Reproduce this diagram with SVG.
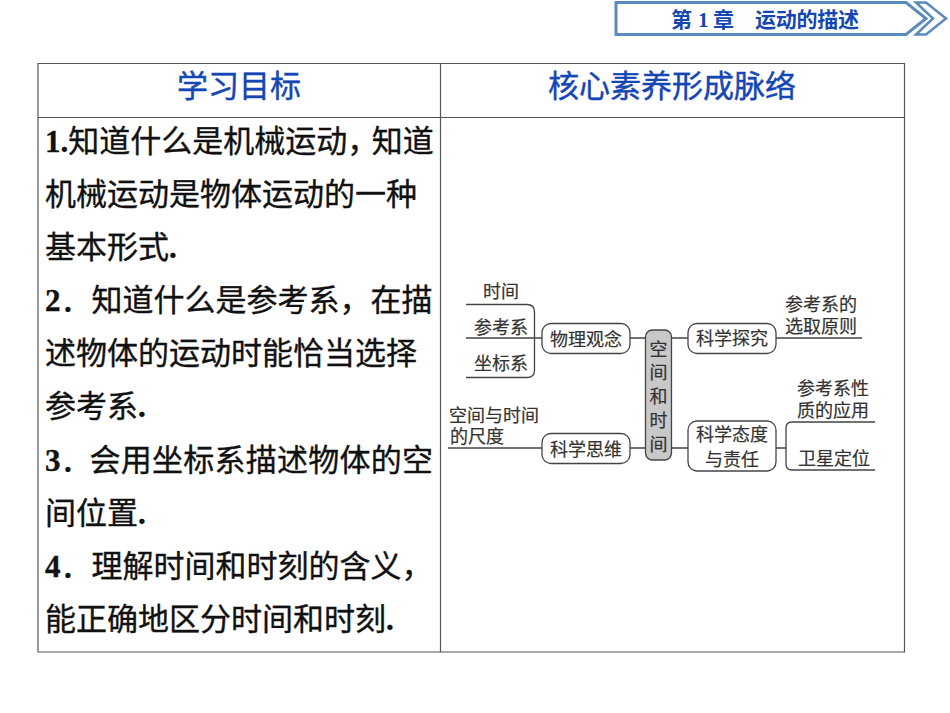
<svg xmlns="http://www.w3.org/2000/svg" width="950" height="713" viewBox="0 0 950 713">
<style>
text{font-family:"Liberation Serif","Noto Sans CJK SC",serif}
.b{font-size:31px;fill:#111;stroke:#111;stroke-width:.35}
.h{font-size:31px;fill:#1446b4;stroke:#1446b4;stroke-width:.4;text-anchor:middle}
.t{font-size:18px;fill:#333;stroke:#333;stroke-width:.2;text-anchor:middle}
.n{fill:#fff;stroke:#444;stroke-width:1.3}
.l{fill:none;stroke:#444;stroke-width:1.3}
.g{fill:none;stroke:#555;stroke-width:1.2}
.c{font-size:21px;font-weight:bold;fill:#1446b4}
</style>
<rect width="950" height="713" fill="#fff"/>
<g id="banner">
<path d="M616 2.500H906L926 18.500L906 34.500H616Z" fill="#fff" stroke="#5b8abd" stroke-width="3"/>
<path d="M916 2.500H926L946 18.500L926 34.500H916L933 18.500Z" fill="#fff" stroke="#5b8abd" stroke-width="2.500"/>
<text class="c" x="671" y="27">第</text><text class="c" x="698" y="27">1</text><text class="c" x="713" y="27">章</text><text class="c" x="755" y="27" textLength="104">运动的描述</text>
</g>
<g id="table">
<path class="g" d="M38 63.500H904.500V652H38ZM38 117.500H904.500M440.500 63.500V652"/>
<text class="h" x="239" y="97">学习目标</text>
<text class="h" x="672" y="97">核心素养形成脉络</text>
<text class="b" x="45" y="152"><tspan font-weight="bold">1.</tspan>知道什么是机械运动<tspan letter-spacing="-6.500">，</tspan>知道</text>
<text class="b" x="45" y="205">机械运动是物体运动的一种</text>
<text class="b" x="45" y="258">基本形式<tspan font-weight="bold">.</tspan></text>
<text class="b" x="45" y="311"><tspan font-weight="bold">2</tspan>．知道什么是参考系，在描</text>
<text class="b" x="45" y="364">述物体的运动时能恰当选择</text>
<text class="b" x="45" y="417">参考系<tspan font-weight="bold">.</tspan></text>
<text class="b" x="45" y="471"><tspan font-weight="bold">3</tspan><tspan letter-spacing="-2">．</tspan><tspan letter-spacing=".250">会用坐标系描述物体的空</tspan></text>
<text class="b" x="45" y="524">间位置<tspan font-weight="bold">.</tspan></text>
<text class="b" x="45" y="577"><tspan font-weight="bold">4</tspan>．理解时间和时刻的含义，</text>
<text class="b" x="45" y="630">能正确地区分时间和时刻<tspan font-weight="bold">.</tspan></text>
</g>
<g id="connectors">
<path class="l" d="M466 304.500H527Q534.500 304.500 534.500 312V370Q534.500 377.500 527 377.500H466"/>
<path class="l" d="M466 338H542M630 338H645M671 338H688M776 338H862"/>
<path class="l" d="M448 448H542M630 448H645M671 448H688M776 448H786"/>
<path class="l" d="M875 422H792Q786 422 786 428V464Q786 470 792 470H875"/>
</g>
<g id="n-wuli"><rect class="n" x="542" y="323.500" width="88" height="30" rx="9"/><text class="t" x="586" y="346">物理观念</text></g>
<g id="n-siwei"><rect class="n" x="542" y="433.500" width="88" height="30" rx="9"/><text class="t" x="586" y="456">科学思维</text></g>
<g id="n-center"><rect x="645.500" y="330" width="26" height="130" rx="7" fill="#c8c8c8" stroke="#444" stroke-width="1.300"/>
<text class="t" x="658.500" y="356">空</text><text class="t" x="658.500" y="379">间</text><text class="t" x="658.500" y="403">和</text><text class="t" x="658.500" y="427">时</text><text class="t" x="658.500" y="451">间</text></g>
<g id="n-tanjiu"><rect class="n" x="688" y="323.500" width="88" height="30" rx="9"/><text class="t" x="732" y="345">科学探究</text></g>
<g id="n-taidu"><rect class="n" x="688" y="421" width="88" height="50" rx="9"/><text class="t" x="732" y="441">科学态度</text><text class="t" x="732" y="466">与责任</text></g>
<g id="labels">
<text class="t" x="501" y="298">时间</text>
<text class="t" x="501" y="334">参考系</text>
<text class="t" x="501" y="370">坐标系</text>
<text class="t" x="494" y="422">空间与时间</text>
<text class="t" x="477" y="443">的尺度</text>
<text class="t" x="821" y="311">参考系的</text>
<text class="t" x="821" y="333">选取原则</text>
<text class="t" x="833" y="395">参考系性</text>
<text class="t" x="833" y="417">质的应用</text>
<text class="t" x="834" y="465">卫星定位</text>
</g>
</svg>
